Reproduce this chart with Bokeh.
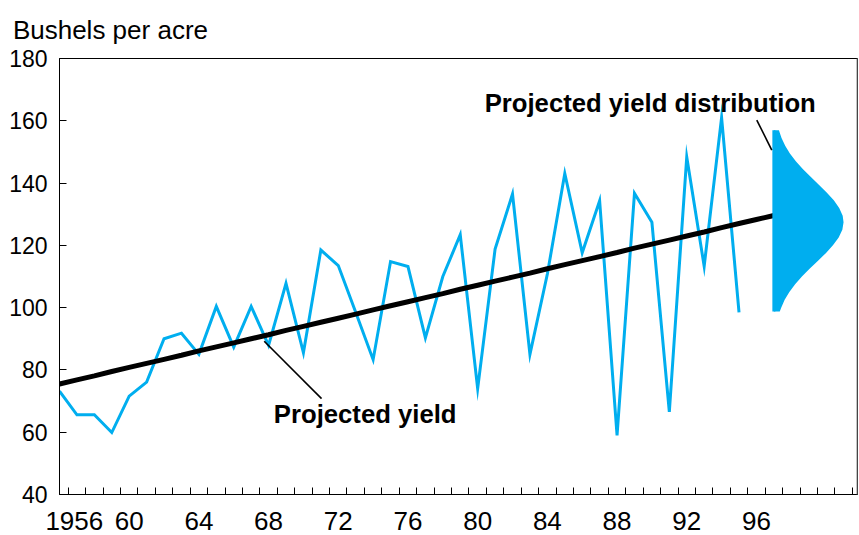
from bokeh.plotting import figure
from bokeh.models import Range1d, FixedTicker, Span, Label
from bokeh.core.properties import value
from bokeh.embed import file_html
from bokeh.resources import INLINE

# ---- data ----
years = list(range(1956, 1996))
yields = [73.2, 65.6, 65.6, 59.9, 71.6, 76.1, 90.0, 91.8, 85.0, 100.4,
          87.3, 100.4, 87.9, 107.8, 85.5, 118.5, 113.5, 98.5, 83.3, 114.8,
          113.2, 90.3, 110.0, 123.4, 74.0, 118.8, 136.5, 85.0, 110.8, 143.1,
          117.6, 134.3, 59.0, 136.7, 127.4, 66.5, 148.4, 113.3, 161.0, 98.5]

trend_years = list(range(1956, 1998))
trend = [75.5, 76.8, 78.1, 79.5, 80.8, 82.1, 83.4, 84.7, 86.1, 87.4,
         88.7, 90.0, 91.3, 92.7, 94.0, 95.3, 96.6, 97.9, 99.3, 100.6,
         101.9, 103.2, 104.5, 105.9, 107.2, 108.5, 109.8, 111.1, 112.5, 113.8,
         115.1, 116.4, 117.7, 119.1, 120.4, 121.7, 123.0, 124.3, 125.7, 127.0,
         128.3, 129.6]

# projected yield distribution (yield value, density expressed as width in years)
dist_base_year = 1997
dist_values = [157.0, 154.5, 152.0, 149.5, 147.0, 144.5, 142.0, 139.5, 137.0,
               134.5, 132.0, 129.5, 127.4, 125.0, 122.5, 120.0, 117.5, 115.0,
               112.5, 110.0, 107.5, 105.0, 102.5, 100.0, 98.8]
dist_width = [0.29, 0.44, 0.65, 0.92, 1.26, 1.66, 2.11, 2.58, 3.03,
              3.44, 3.75, 3.95, 4.00, 3.93, 3.72, 3.39, 2.98, 2.52,
              2.05, 1.61, 1.22, 0.89, 0.62, 0.42, 0.34]

label_years = [1956, 1960, 1964, 1968, 1972, 1976, 1980, 1984, 1988, 1992, 1996]
label_texts = ["1956", "60", "64", "68", "72", "76", "80", "84", "88", "92", "96"]
minor_years = [y + 0.5 for y in range(1956, 2002)]
y_ticks = [40, 60, 80, 100, 120, 140, 160, 180]

FONT = value("Liberation Sans")
BLUE = "#00AEEF"

p = figure(width=858, height=535,
           x_range=Range1d(1956, 2001.8), y_range=Range1d(40, 180),
           output_backend="svg", toolbar_location=None,
           min_border_left=59, min_border_right=1,
           min_border_top=58, min_border_bottom=41)
p.grid.grid_line_color = None
p.outline_line_color = "black"
p.outline_line_width = 1

# y-axis unit caption, placed in the panel above the frame
p.add_layout(Label(x=1956, y=180, x_offset=-46.6, y_offset=28.7, text="Bushels per acre",
                   text_font="Liberation Sans", text_font_size="26px",
                   text_baseline="alphabetic", text_align="left", text_color="black"), "above")

# x axis: labels between the yearly ticks; first label nudged right
first_shift = 0.85
tick_pos = [label_years[0] + first_shift] + label_years[1:]
xa = p.xaxis[0]
xa.ticker = FixedTicker(ticks=tick_pos, minor_ticks=minor_years)
xa.major_label_overrides = {t: s for t, s in zip(tick_pos, label_texts)}
xa.major_tick_line_color = None
xa.minor_tick_in = 7
xa.minor_tick_out = 0
xa.minor_tick_line_color = "black"
xa.axis_line_color = "black"
xa.major_label_text_font = "Liberation Sans"
xa.major_label_text_font_size = "26px"
xa.major_label_text_color = "black"
xa.major_label_standoff = 11

ya = p.yaxis[0]
ya.ticker = FixedTicker(ticks=y_ticks)
ya.major_tick_in = 7
ya.major_tick_out = 0
ya.minor_tick_line_color = None
ya.axis_line_color = "black"
ya.major_label_text_font = "Liberation Sans"
ya.major_label_text_font_size = "23px"
ya.major_label_text_color = "black"
ya.major_label_standoff = 12

# right border grey
p.add_layout(Span(location=2001.8, dimension="height", line_color="#8a8a8a", line_width=2))

# series
p.line(years, yields, line_color=BLUE, line_width=3, line_join="miter")
p.line(trend_years, trend, line_color="black", line_width=5)
p.harea(y=dist_values, x1=[dist_base_year] * len(dist_values),
        x2=[dist_base_year + w for w in dist_width], fill_color=BLUE)
p.segment(x0=[dist_base_year], y0=[dist_values[-1]], x1=[dist_base_year], y1=[dist_values[0]],
          line_color=BLUE, line_width=3)

# annotations
ann_text = ["Projected yield", "Projected yield distribution"]
ann_x = [1968.3, 1980.4]
ann_y = [66.0, 165.8]
lead_x0 = [1967.75, 1996.02]
lead_y0 = [89.2, 160.2]
lead_x1 = [1971.04, 1996.88]
lead_y1 = [70.8, 150.6]
p.segment(x0=lead_x0, y0=lead_y0, x1=lead_x1, y1=lead_y1, line_color="black", line_width=1.6)
p.text(x=ann_x, y=ann_y, text=ann_text, text_font=FONT, text_font_style="bold",
       text_font_size="25.7px", text_align="left", text_baseline="alphabetic", text_color="black")

open("out.html", "w").write(file_html(p, INLINE))
